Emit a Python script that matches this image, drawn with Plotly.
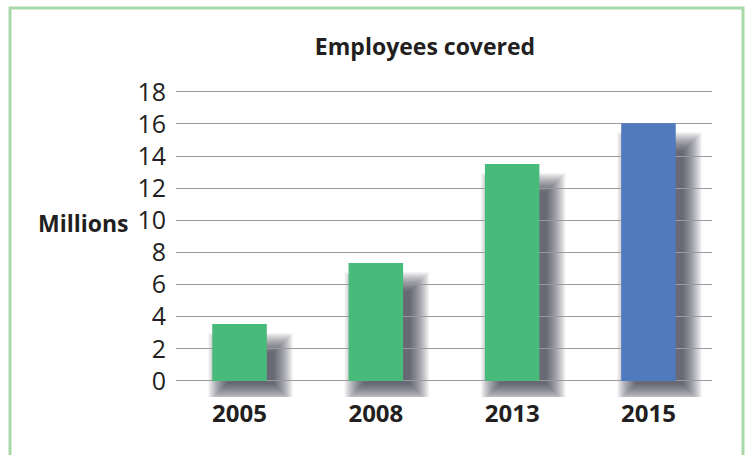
import plotly.graph_objects as go

years = ["2005", "2008", "2013", "2015"]
values = [3.55, 7.35, 13.5, 16.05]
bar_colors = ["#48BA79", "#48BA79", "#48BA79", "#5079BE"]
y_ticks = [0, 2, 4, 6, 8, 10, 12, 14, 16, 18]

W, H = 750, 455
ml, mr, mt, mb = 176, 38, 87, 58
xr = [-0.466, 3.466]
yr = [-1.0, 18.3]
px_x = (W - ml - mr) / (xr[1] - xr[0])
px_y = (H - mt - mb) / (yr[1] - yr[0])
bw = 0.40

fig = go.Figure()
fig.add_trace(go.Bar(x=list(range(len(years))), y=values, width=bw,
                     marker=dict(color=bar_colors, line=dict(width=0)),
                     hoverinfo="skip"))

shapes = []
# soft drop shadows behind each bar (stacked translucent layers)
dx, top_in, bot_in, layers, step = 7, 28, 3, 20, 1.0
for i, v in enumerate(values):
    for k in range(layers):
        e = k * step
        shapes.append(dict(
            type="rect", xref="x", yref="y", layer="below",
            x0=i - bw / 2 + (dx + 8 - e) / px_x, x1=i + bw / 2 + (dx + e) / px_x,
            y0=0 - (bot_in + e) / px_y, y1=v - (top_in - e) / px_y,
            fillcolor="rgba(25,25,35,0.046)", line=dict(width=0)))
# green frame
shapes.append(dict(type="rect", xref="paper", yref="paper",
                   x0=(10 - ml) / (W - ml - mr), x1=(743 - ml) / (W - ml - mr),
                   y0=-(mb + 20) / (H - mt - mb), y1=1 + (mt - 8) / (H - mt - mb),
                   line=dict(color="#A9D9A9", width=3), fillcolor="rgba(0,0,0,0)",
                   layer="below"))

fig.update_layout(
    width=W, height=H,
    margin=dict(l=ml, r=mr, t=mt, b=mb),
    paper_bgcolor="white", plot_bgcolor="rgba(0,0,0,0)",
    showlegend=False,
    font=dict(family="Open Sans", color="#231F20"),
    title=dict(text="<b>Employees covered</b>", x=425 / W, xanchor="center",
               y=1 - 47 / H, yanchor="middle", yref="container",
               font=dict(size=23, family="Open Sans", color="#231F20")),
    shapes=shapes,
    xaxis=dict(range=xr, tickvals=list(range(len(years))), ticktext=[f"<b>{y}</b>" for y in years],
               showgrid=False, zeroline=False, showline=False,
               tickfont=dict(size=24, color="#231F20")),
    yaxis=dict(range=yr, tickvals=y_ticks, showgrid=True, gridcolor="#9A9A9A", gridwidth=1,
               zeroline=False, showline=False, ticklabelstandoff=9,
               tickfont=dict(size=25, color="#231F20")),
    annotations=[dict(text="<b>Millions</b>", xref="paper", yref="y",
                      x=(131 - ml) / (W - ml - mr), y=10, xanchor="right", yanchor="middle",
                      yshift=-3, showarrow=False,
                      font=dict(size=23, family="Open Sans", color="#231F20"))],
)

fig.write_html("out.html")
